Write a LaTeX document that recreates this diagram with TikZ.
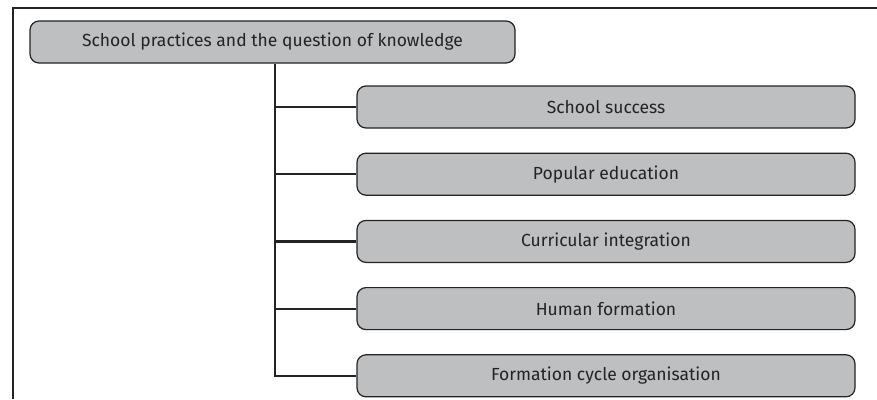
\documentclass[tikz,border=0pt]{standalone}
\usepackage{fontspec}
\setmainfont{Fira Sans}
\usetikzlibrary{positioning}

\definecolor{boxgray}{RGB}{190,191,193}
\definecolor{linegray}{RGB}{35,35,35}
\definecolor{textgray}{RGB}{35,35,35}

\tikzset{
	topic/.style={draw=linegray,line width=1.2pt,fill=boxgray,rounded corners=9pt,
		minimum height=42pt,text=textgray,font=\fontsize{17.5}{19}\selectfont},
	subtopic/.style={topic,minimum width=498pt},
	branch/.style={draw=linegray,line width=2.2pt}
}

\begin{document}
\begin{tikzpicture}[x=1pt,y=-1pt]

	\def\gap{24pt}

	\useasboundingbox (0,0) rectangle (877,399);

	% frame, open at the bottom and at the right
	\draw[linegray,line width=1.2pt] (877,8) -- (13,8) -- (13,399);

	\node[topic,minimum width=485pt] (root) at (272.5,42) {School practices and the question of knowledge};

	\node[subtopic] (success) at (606,107) {School success};
	\node[subtopic,below=\gap of success] (popular) {Popular education};
	\node[subtopic,below=\gap of popular] (curricular) {Curricular integration};
	\node[subtopic,below=\gap of curricular] (human) {Human formation};
	\node[subtopic,below=\gap of human] (cycle) {Formation cycle organisation};

	\coordinate (trunk) at (275,0);

	\draw[branch] (root.south -| trunk) -- (cycle.west -| trunk) -- (cycle.west);
	\draw[branch] (success.west -| trunk) -- (success.west);
	\draw[branch] (popular.west -| trunk) -- (popular.west);
	\draw[branch] (curricular.west -| trunk) -- (curricular.west);
	\draw[branch] (human.west -| trunk) -- (human.west);

\end{tikzpicture}
\end{document}
